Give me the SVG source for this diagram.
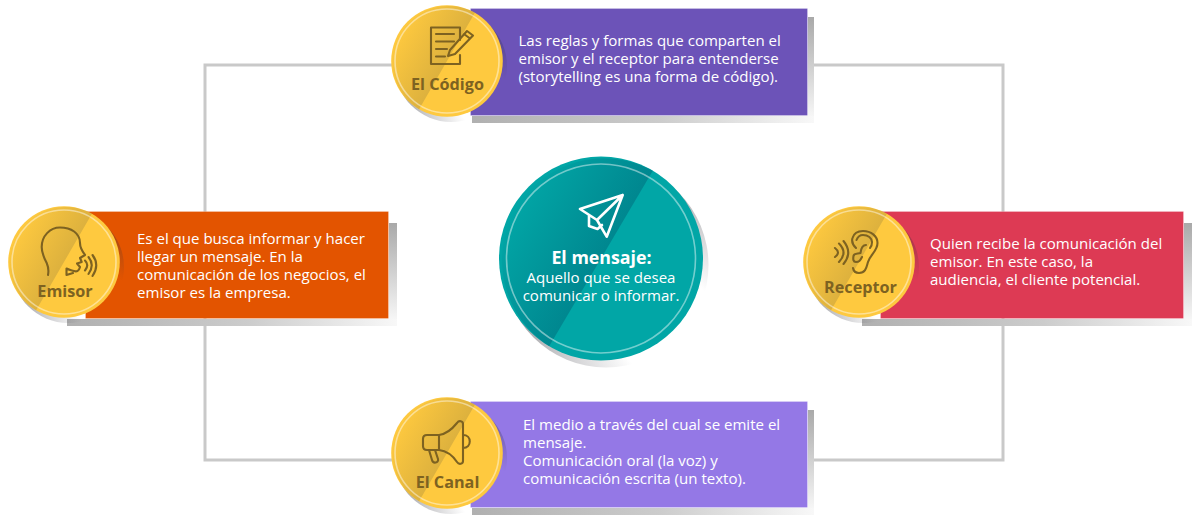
<svg xmlns="http://www.w3.org/2000/svg" width="1200" height="523" viewBox="0 0 1200 523">
<defs>
<linearGradient id="shr" x1="0" y1="0" x2="0" y2="1"><stop offset="0" stop-color="#a9a9a9"/><stop offset="1" stop-color="#f6f6f6"/></linearGradient>
<linearGradient id="shb" x1="0" y1="0" x2="1" y2="0"><stop offset="0" stop-color="#b0b0b0"/><stop offset="0.55" stop-color="#cccccc"/><stop offset="1" stop-color="#f8f8f8"/></linearGradient>
<radialGradient id="gs" cx=".82" cy=".82" r="1"><stop offset="0.25" stop-color="#30303a" stop-opacity="0"/><stop offset="0.6" stop-color="#30303a" stop-opacity=".3"/><stop offset="1" stop-color="#30303a" stop-opacity=".72"/></radialGradient>
<linearGradient id="coinDark" gradientUnits="userSpaceOnUse" x1="-48.500" y1="-28" x2="0" y2="0"><stop offset="0" stop-color="#7a6a3a" stop-opacity="0"/><stop offset="1" stop-color="#7a6a3a" stop-opacity=".25"/></linearGradient>
<linearGradient id="tealDark" gradientUnits="userSpaceOnUse" x1="513" y1="207" x2="601" y2="258.500"><stop offset="0" stop-color="#007a86" stop-opacity="0"/><stop offset="1" stop-color="#007a86" stop-opacity=".7"/></linearGradient>
<g id="coin">
<circle cx="4" cy="5" r="56" fill="url(#gs)"/>
<circle r="55.800" fill="#fec93f"/>
<path d="M27.900 -48.300A55.800 55.800 0 0 0 -27.900 48.300Z" fill="url(#coinDark)"/>
<circle r="52" fill="none" stroke="#fff" stroke-opacity=".45" stroke-width="1.600"/>
</g>
</defs>
<style>
.c{fill:none;stroke:#c9c9c9;stroke-width:3}
.t{font-family:"Open Sans","Noto Sans","Liberation Sans",sans-serif;font-size:15.050px;fill:#fff}
.l{font-family:"Open Sans","Noto Sans","Liberation Sans",sans-serif;font-size:16.200px;font-weight:700;fill:#7d6221;text-anchor:middle}
.ic{fill:none;stroke:#7d6221;stroke-width:2.100;stroke-linecap:round;stroke-linejoin:round}
.edge{stroke:#fff;stroke-opacity:.22;stroke-width:1}
</style>
<g id="connectors"><path class="c" d="M205 320V65H392M205 320V460H392M808 65H1003V460H808"/></g>

<g id="codigo">
<rect x="472" y="116" width="342" height="7" fill="url(#shb)"/><rect x="808" y="17" width="6" height="99" fill="url(#shr)"/>
<rect x="470.500" y="8.500" width="337" height="107" fill="#6c53b8" class="edge"/>
<use href="#coin" x="447" y="61"/>
<g class="ic"><path d="M460 40V27.500H431V64H460V55"/><path d="M436 34H454M436 41.500H454M436 49H447M436 56.500H445"/><path d="M448 56L450 50L467 31L473 35.500L455 54ZM464 34L470 38.500"/></g>
<text class="l" x="447.500" y="90">El Código</text>
<text class="t" x="518.500" y="46">Las reglas y formas que comparten el</text>
<text class="t" x="518.500" y="64">emisor y el receptor para entenderse</text>
<text class="t" x="518.500" y="82">(storytelling es una forma de código).</text>
</g>

<g id="emisor">
<rect x="67" y="319" width="330" height="7" fill="url(#shb)"/><rect x="389" y="223" width="8" height="96" fill="url(#shr)"/>
<rect x="85.500" y="211.500" width="303" height="107" fill="#e35400" class="edge"/>
<use href="#coin" x="64" y="262"/>
<g class="ic"><path d="M48 275C49 270 48 266 46.700 263C43 256 41.700 252 41.700 247C41.700 236 50 227.500 60 227.500C71 227.500 80 233 80 243C80 247 82 251 85 255L80 258L81.700 262L77 263.500L80 267C79 271 76.700 272 74 271C71 270 69 270 66.500 268.500V275L73 273"/><path d="M85 260.500Q89.500 265 85 270.500M88.500 257Q95 265 88.500 274M92.500 255Q100 265 92.500 276"/></g>
<text class="l" x="65" y="297">Emisor</text>
<text class="t" x="137" y="244">Es el que busca informar y hacer</text>
<text class="t" x="137" y="262">llegar un mensaje. En la</text>
<text class="t" x="137" y="280">comunicación de los negocios, el</text>
<text class="t" x="137" y="298">emisor es la empresa.</text>
</g>

<g id="receptor">
<rect x="862" y="319" width="330" height="7" fill="url(#shb)"/><rect x="1184" y="223" width="8" height="96" fill="url(#shr)"/>
<rect x="880.500" y="211.500" width="303" height="107" fill="#dd3a54" class="edge"/>
<use href="#coin" x="859" y="262"/>
<g class="ic"><path d="M856 248C853 245 851.500 241 852.500 238C854 233 858 231 863 231C871 231 877.500 236 877.500 243C877.500 251 870 255 868 262C866.500 267 866 273 859 273C856 273 853.500 271 853 268"/><path d="M856.500 240C858 236 861 235 863 235C868 235 872 238 872 242C872 245 871 247 870 248"/><path d="M866 245C862 245 861 249 860.500 253C858 254 854 253 853.500 256C853 259 853 262 856 262C859 262 860 261 862 257"/><path d="M835 248Q841 252.500 835 257M839 243.500Q848 252.500 839 262M843.500 241Q853 252.500 843.500 264"/></g>
<text class="l" x="860.500" y="293">Receptor</text>
<text class="t" x="930" y="249">Quien recibe la comunicación del</text>
<text class="t" x="930" y="267">emisor. En este caso, la</text>
<text class="t" x="930" y="285">audiencia, el cliente potencial.</text>
</g>

<g id="canal">
<rect x="472" y="508" width="342" height="7" fill="url(#shb)"/><rect x="808" y="410" width="6" height="98" fill="url(#shr)"/>
<rect x="470.500" y="401.500" width="337" height="106" fill="#9478e6" class="edge"/>
<use href="#coin" x="447" y="453"/>
<g class="ic"><path d="M439 435H427Q423 435 423 439V446Q423 450 427 450H439Z"/><path d="M439 435C447 434 453 428 457 423C459 420 463 421 463 424V461C463 464 459 465 457 462C453 456 447 451 439 450"/><path d="M463 435C472 435 472 448 463 448"/><path d="M429 450L432 460C433 464 439 463 438 459L435 450"/></g>
<text class="l" x="447.500" y="488">El Canal</text>
<text class="t" x="523" y="430">El medio a través del cual se emite el</text>
<text class="t" x="523" y="448">mensaje.</text>
<text class="t" x="523" y="466">Comunicación oral (la voz) y</text>
<text class="t" x="523" y="484">comunicación escrita (un texto).</text>
</g>

<g id="mensaje">
<circle cx="606" cy="265" r="102.500" fill="url(#gs)"/>
<circle cx="601" cy="258.500" r="102" fill="#01a6a6"/>
<path d="M652.800 170.700A102 102 0 0 0 549.200 346.300Z" fill="url(#tealDark)"/>
<circle cx="601" cy="258.500" r="94.500" fill="none" stroke="#fff" stroke-opacity=".45" stroke-width="1.600"/>
<g fill="none" stroke="#fff" stroke-width="2.600" stroke-linejoin="round" stroke-linecap="round"><path d="M622.700 195L580 209L597 220L606.700 236.700ZM622.700 195L597 220M589 215V226L597.500 229L602 225"/></g>
<text x="601.500" y="264" text-anchor="middle" style="font-family:'Open Sans','Noto Sans',sans-serif;font-size:17.800px;font-weight:700;fill:#fff">El mensaje:</text>
<text class="t" x="601" y="283" text-anchor="middle">Aquello que se desea</text>
<text class="t" x="601" y="301" text-anchor="middle">comunicar o informar.</text>
</g>
</svg>
